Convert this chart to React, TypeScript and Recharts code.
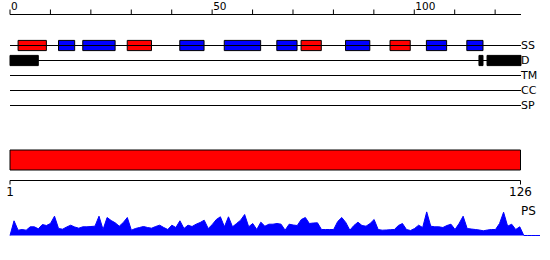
import React from 'react';
import {
  ComposedChart,
  BarChart,
  AreaChart,
  XAxis,
  YAxis,
  Bar,
  Area,
  ReferenceLine,
  ReferenceArea,
} from 'recharts';

const FONT = '"DejaVu Sans", sans-serif';

// ---- data ----
const trackNames = ['SS', 'D', 'TM', 'CC', 'SP'];
const helixStart = [2, 29, 72, 94];
const helixEnd = [9, 35, 77, 99];
const strandStart = [12, 18, 42, 53, 66, 83, 103, 113];
const strandEnd = [16, 26, 48, 62, 71, 89, 108, 117];
const disorderStart = [0, 116, 118];
const disorderEnd = [7, 117, 126.4];
const axisTicks = [0, 10, 20, 30, 40, 50, 60, 70, 80, 90, 100, 110, 120];
const axisLabelled = [0, 50, 100];
const domainLabel = ['domain'];
const domainRange = [1, 126];
const psValues = [
  0, 14.7, 5.3, 6, 5.3, 8.7, 8.7, 6.7, 11, 10,
  12, 19.3, 7, 6.3, 8.5, 10.3, 8.5, 7.3, 8.7, 8.7,
  9, 9.3, 19.3, 6, 18, 15, 12.7, 9.3, 13, 18,
  5.3, 7, 8, 9, 8, 7.3, 9, 10.3, 8, 6,
  10.3, 8, 14.7, 7, 10.3, 9, 11.3, 13, 15.3, 7,
  11, 16, 18.7, 8.7, 18.7, 8.7, 12, 15.3, 21, 8.7,
  12, 6, 13.3, 9.3, 11.3, 11.3, 12, 11.3, 5.3, 11.3,
  10.5, 10, 16, 18, 12, 12.5, 12.7, 6, 6, 6,
  6, 14, 18, 13, 5.3, 10, 13.3, 10, 9.3, 12,
  16, 6, 5.3, 5.5, 5.8, 6, 10, 12, 6, 5,
  7, 10.3, 8, 23.6, 9.3, 8.7, 8.7, 8, 10, 11.3,
  6, 12, 19.3, 7, 6.5, 6, 5.5, 4.7, 5.5, 6,
  6, 12, 23.3, 9.3, 11.3, 6, 8.7, 0, 0, 0,
  0, 0,
];

const rowData = trackNames.map((name, i) => ({ name, row: i, pos: axisTicks[i] }));
const domainData = domainLabel.map((name) => ({ name, range: domainRange }));
const psData = psValues.map((ps, pos) => ({ pos, ps }));

const TopTick = (props: any) => {
  const { x, y, payload } = props;
  if (!axisLabelled.includes(payload.value)) return null;
  return (
    <text x={x + 1} y={y} textAnchor="start" fontSize={10.5} fontFamily={FONT} fill="#000">
      {payload.value}
    </text>
  );
};

export default function App() {
  return (
    <div style={{ position: 'absolute', left: 0, top: 0, width: 550, height: 260, background: '#fff', fontFamily: FONT }}>
      <div style={{ position: 'absolute', left: 0, top: 0 }}>
        <ComposedChart width={550} height={115} data={rowData} margin={{ top: 0, right: 0, bottom: 0.5, left: 10 }}>
          <XAxis
            xAxisId="pos"
            dataKey="pos"
            type="number"
            orientation="top"
            domain={[0, 126.4]}
            ticks={axisTicks}
            interval={0}
            height={14.5}
            tickSize={5}
            tickMargin={0}
            stroke="#000"
            tick={<TopTick />}
            allowDataOverflow
          />
          <YAxis
            yAxisId="row"
            dataKey="row"
            type="number"
            orientation="right"
            width={29}
            domain={[-2.0667, 4.6]}
            reversed
            ticks={[0, 1, 2, 3, 4]}
            interval={0}
            tickFormatter={(i: number) => trackNames[i]}
            tickLine={false}
            axisLine={false}
            tickSize={0}
            tickMargin={0}
            tick={{ fontSize: 11, fontFamily: FONT, fill: '#000', textAnchor: 'start' }}
            allowDataOverflow
          />
          {trackNames.map((n, i) => (
            <ReferenceLine key={n} xAxisId="pos" yAxisId="row" y={i} stroke="#000" strokeWidth={1} />
          ))}
          {helixStart.map((s, i) => (
            <ReferenceArea key={'h' + i} xAxisId="pos" yAxisId="row" x1={s} x2={helixEnd[i]} y1={-0.34} y2={0.34}
              fill="#ff0000" fillOpacity={1} stroke="#000" strokeWidth={1} />
          ))}
          {strandStart.map((s, i) => (
            <ReferenceArea key={'s' + i} xAxisId="pos" yAxisId="row" x1={s} x2={strandEnd[i]} y1={-0.34} y2={0.34}
              fill="#0000ff" fillOpacity={1} stroke="#000" strokeWidth={1} />
          ))}
          {disorderStart.map((s, i) => (
            <ReferenceArea key={'d' + i} xAxisId="pos" yAxisId="row" x1={s} x2={disorderEnd[i]} y1={0.66} y2={1.34}
              fill="#000" fillOpacity={1} stroke="#000" strokeWidth={1} />
          ))}
        </ComposedChart>
      </div>

      <div style={{ position: 'absolute', left: 0, top: 140 }}>
        <BarChart width={550} height={64.5} layout="vertical" data={domainData} margin={{ top: 0, right: 29.5, bottom: 0, left: 10 }}>
          <XAxis
            type="number"
            domain={domainRange}
            ticks={domainRange}
            interval={0}
            height={24}
            tickSize={4}
            tickMargin={3}
            stroke="#000"
            tick={{ fontSize: 12, fontFamily: FONT, fill: '#000' }}
          />
          <YAxis type="category" dataKey="name" hide />
          <Bar dataKey="range" fill="#ff0000" stroke="#000" strokeWidth={1} barSize={20} isAnimationActive={false} />
        </BarChart>
      </div>

      <div style={{ position: 'absolute', left: 0, top: 205 }}>
        <AreaChart width={550} height={31} data={psData} margin={{ top: 0, right: 10, bottom: 0, left: 10 }}>
          <XAxis dataKey="pos" type="number" domain={[0, 131]} hide />
          <YAxis type="number" domain={[-0.5, 30.5]} hide allowDataOverflow />
          <Area
            dataKey="ps"
            type="linear"
            stroke="#0000ff"
            strokeWidth={1}
            fill="#0000ff"
            fillOpacity={1}
            baseValue={0}
            dot={false}
            activeDot={false}
            isAnimationActive={false}
          />
        </AreaChart>
      </div>

      <svg width={40} height={20} style={{ position: 'absolute', left: 515, top: 200 }}>
        <text x={6} y={15} fontSize={12} fontFamily={FONT} fill="#000">PS</text>
      </svg>
    </div>
  );
}
